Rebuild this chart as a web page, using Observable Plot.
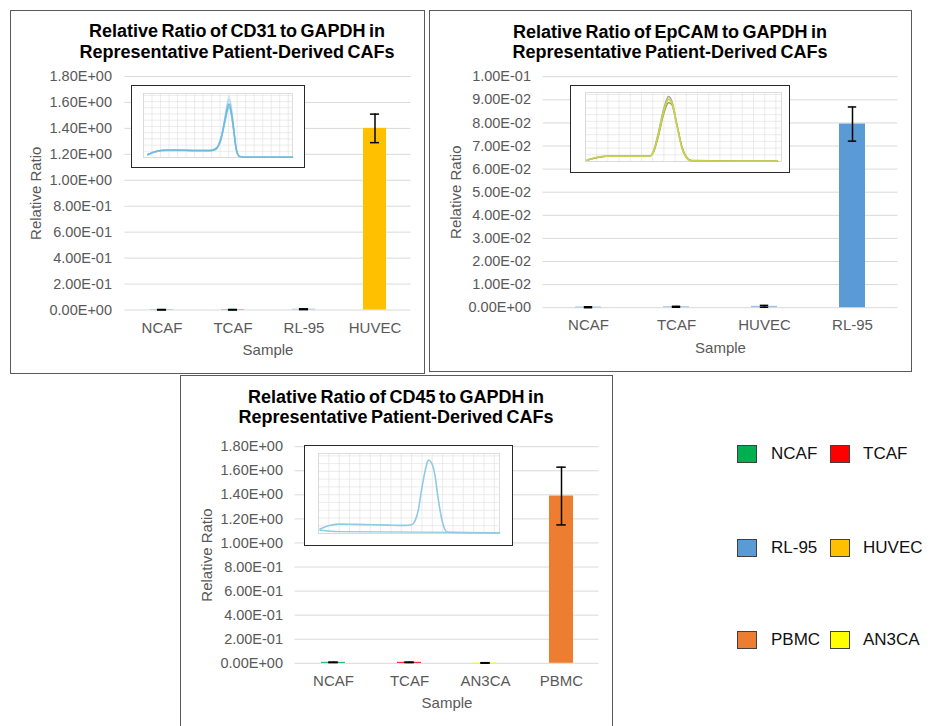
<!DOCTYPE html>
<html>
<head>
<meta charset="utf-8">
<script src="https://cdn.jsdelivr.net/npm/d3@7"></script>
<script src="https://cdn.jsdelivr.net/npm/@observablehq/plot@0.6"></script>
<style>
  html, body { margin: 0; padding: 0; background: #fff; }
  body { width: 931px; height: 726px; overflow: hidden; position: relative; font-family: "Liberation Sans", Arial, sans-serif; }
  .panel { position: absolute; box-sizing: border-box; border: 1.5px solid #5a5a5a; background: #fff; }
  .panel svg { position: absolute; left: 0; top: 0; }
  .title { position: absolute; text-align: center; font-weight: bold; font-size: 18px; line-height: 20.7px; color: #000; word-spacing: -1.5px; white-space: nowrap; }
  .inset { position: absolute; box-sizing: border-box; border: 1.5px solid #2a2a2a; background: #fff; }
  .inset svg { position: absolute; left: 0; top: 0; }
  .sw { position: absolute; width: 20px; height: 18px; box-sizing: border-box; border: 1px solid #404040; }
  .lt { position: absolute; font-size: 17px; line-height: 20px; color: #111; white-space: nowrap; }
</style>
</head>
<body>
<script>
// ---------------- Data ----------------
// Panel 1: CD31
const cd31Samples = ["NCAF", "TCAF", "RL-95", "HUVEC"];
const cd31Values  = [0.002, 0.002, 0.006, 1.40];
const cd31Errors  = [0.002, 0.002, 0.003, 0.11];
const cd31Colors  = ["#00B050", "#FF0000", "#9DC3E6", "#FFC000"];
const cd31Ticks   = [0, 0.2, 0.4, 0.6, 0.8, 1.0, 1.2, 1.4, 1.6, 1.8];

// Panel 2: EpCAM
const epcamSamples = ["NCAF", "TCAF", "HUVEC", "RL-95"];
const epcamValues  = [0.0002, 0.0004, 0.0006, 0.0795];
const epcamErrors  = [0.0002, 0.0002, 0.0004, 0.0074];
const epcamColors  = ["#5B9BD5", "#9DC3E6", "#9DC3E6", "#5B9BD5"];
const epcamTicks   = [0, 0.01, 0.02, 0.03, 0.04, 0.05, 0.06, 0.07, 0.08, 0.09, 0.10];

// Panel 3: CD45
const cd45Samples = ["NCAF", "TCAF", "AN3CA", "PBMC"];
const cd45Values  = [0.008, 0.008, 0.003, 1.39];
const cd45Errors  = [0.002, 0.002, 0.002, 0.24];
const cd45Colors  = ["#00B050", "#FF0000", "#FFFF00", "#ED7D31"];
const cd45Ticks   = [0, 0.2, 0.4, 0.6, 0.8, 1.0, 1.2, 1.4, 1.6, 1.8];

// Inset melt curves (temperature, -d(RFU)/dT normalised)
const meltGridX = [60, 62, 64, 66, 68, 70, 72, 74, 76, 78, 80, 82, 84, 86, 88, 90, 92, 94];
const meltGridY = [0, 0.1, 0.2, 0.3, 0.4, 0.5, 0.6, 0.7, 0.8, 0.9, 1.0];

const cd31Temps = [61, 63, 65.5, 68.5, 72.5, 75.5, 76.7, 77.5, 78.3, 79.1, 79.7, 80.1, 80.6, 81.2, 81.8, 82.6, 84, 95];
const cd31CurveA = [0.05, 0.10, 0.12, 0.12, 0.11, 0.11, 0.13, 0.18, 0.33, 0.59, 0.79, 0.86, 0.74, 0.44, 0.13, 0.015, 0.005, 0.005];
const cd31CurveB = [0.05, 0.10, 0.12, 0.12, 0.12, 0.12, 0.14, 0.19, 0.35, 0.63, 0.85, 0.93, 0.80, 0.47, 0.14, 0.02, 0.005, 0.005];
const cd31CurveC = [0.05, 0.10, 0.12, 0.12, 0.11, 0.11, 0.13, 0.18, 0.34, 0.65, 0.90, 0.99, 0.84, 0.48, 0.14, 0.02, 0.005, 0.005];
const cd31CurveD = [0.04, 0.09, 0.11, 0.11, 0.11, 0.11, 0.12, 0.17, 0.31, 0.56, 0.75, 0.81, 0.70, 0.42, 0.12, 0.015, 0.005, 0.005];

const epcamTemps = [60.3, 62.4, 64.1, 67.1, 70.1, 71.5, 72.1, 73.0, 73.9, 74.5, 74.8, 75.4, 76.3, 77.2, 78.1, 78.9, 94.3];
const epcamCurveA = [0.02, 0.07, 0.08, 0.08, 0.08, 0.08, 0.14, 0.40, 0.73, 0.89, 0.93, 0.88, 0.55, 0.21, 0.05, 0.01, 0.005];
const epcamCurveB = [0.02, 0.07, 0.08, 0.08, 0.08, 0.08, 0.15, 0.43, 0.77, 0.93, 0.97, 0.91, 0.57, 0.22, 0.05, 0.01, 0.005];
const epcamCurveC = [0.02, 0.06, 0.08, 0.08, 0.08, 0.08, 0.13, 0.37, 0.69, 0.84, 0.88, 0.85, 0.55, 0.23, 0.06, 0.015, 0.005];

const cd45Temps = [60.3, 61.9, 63.9, 67.1, 70.3, 73.5, 76.7, 78.0, 78.6, 79.3, 79.9, 80.6, 81.1, 81.3, 81.8, 82.5, 83.1, 83.8, 84.4, 85.0, 95];
const cd45Curve = [0.058, 0.10, 0.121, 0.117, 0.113, 0.108, 0.104, 0.113, 0.154, 0.30, 0.55, 0.80, 0.925, 0.946, 0.917, 0.758, 0.467, 0.196, 0.058, 0.017, 0.008];
const cd45BaseTemps = [60.3, 63.9, 95];
const cd45Base = [0.042, 0.025, 0.012];

// Legend
const legendNames  = ["NCAF", "TCAF", "RL-95", "HUVEC", "PBMC", "AN3CA"];
const legendColors = ["#00B050", "#FF0000", "#5B9BD5", "#FFC000", "#ED7D31", "#FFFF00"];

// ---------------- Helpers ----------------
function sci(v) {
  if (Math.abs(v) < 1e-12) return "0.00E+00";
  let e = Math.floor(Math.log10(Math.abs(v)) + 1e-9);
  let m = v / Math.pow(10, e);
  if (Math.abs(m) >= 9.995) { m /= 10; e += 1; }
  return m.toFixed(2) + "E" + (e < 0 ? "-" : "+") + String(Math.abs(e)).padStart(2, "0");
}

const FONT = '"Liberation Sans", Arial, sans-serif';

function barPanel(cfg) {
  const data = cfg.samples.map((s, i) => ({ s, v: cfg.values[i], e: cfg.errors[i], col: cfg.colors[i] }));
  const frameW = cfg.width - cfg.ml - cfg.mr;
  const bw = frameW / cfg.samples.length * (1 - cfg.pad);
  const capInset = Math.max(0, (bw - 9) / 2);
  return Plot.plot({
    width: cfg.width, height: cfg.height,
    marginLeft: cfg.ml, marginRight: cfg.mr, marginTop: cfg.mt, marginBottom: cfg.mb,
    style: { fontFamily: FONT, fontSize: "15px", color: "#595959", background: "transparent", overflow: "visible" },
    color: { type: "identity" },
    x: { domain: cfg.samples, paddingInner: cfg.pad, paddingOuter: cfg.pad / 2, label: null },
    y: { domain: [0, cfg.yMax], label: null },
    marks: [
      Plot.gridY(cfg.ticks, { stroke: "#d9d9d9", strokeOpacity: 1, strokeWidth: 1 }),
      Plot.barY(data, { x: "s", y: "v", fill: d => d.col }),
      Plot.ruleX(data, { x: "s", y1: d => Math.max(0, d.v - d.e), y2: d => d.v + d.e, stroke: "#000", strokeWidth: 1.5 }),
      Plot.tickY(data, { x: "s", y: d => d.v + d.e, stroke: "#000", strokeWidth: 1.5, insetLeft: capInset, insetRight: capInset }),
      Plot.tickY(data, { x: "s", y: d => Math.max(0, d.v - d.e), stroke: "#000", strokeWidth: 1.5, insetLeft: capInset, insetRight: capInset }),
      Plot.axisX({ tickSize: 0, tickPadding: 12, fontSize: 15, fill: "#595959" }),
      Plot.axisY({ ticks: cfg.ticks, tickFormat: sci, tickSize: 0, tickPadding: cfg.tp, fontSize: 14.5, fill: "#595959" }),
      Plot.text(["Sample"], { text: d => d, frameAnchor: "bottom", dy: 40, lineAnchor: "middle", fontSize: 15, fill: "#595959" }),
      Plot.text(["Relative Ratio"], { text: d => d, frameAnchor: "left", dx: cfg.ylabDx, rotate: -90, textAnchor: "middle", lineAnchor: "middle", fontSize: 15, fill: "#595959" })
    ]
  });
}

function meltInset(cfg) {
  const marks = [
    Plot.gridX(meltGridX, { stroke: "#e3e3e3", strokeOpacity: 1, strokeWidth: 0.7 }),
    Plot.gridY(meltGridY, { stroke: "#e3e3e3", strokeOpacity: 1, strokeWidth: 0.7 }),
    Plot.frame({ stroke: "#d6d6d6", strokeWidth: 0.8 })
  ];
  cfg.curves.forEach(c => {
    const rows = c.temps.map((t, i) => ({ t, v: c.vals[i] }));
    marks.push(Plot.line(rows, { x: "t", y: "v", stroke: c.color, strokeWidth: c.w, curve: "monotone-x" }));
  });
  return Plot.plot({
    width: cfg.width, height: cfg.height,
    marginLeft: cfg.ml, marginRight: cfg.mr, marginTop: cfg.mt, marginBottom: cfg.mb,
    style: { background: "transparent" },
    x: { domain: [60, 95], axis: null },
    y: { domain: [0, 1.03], axis: null },
    marks
  });
}

function makePanel(box, titleLines, titleBox, chart, insetBox, insetChart) {
  const div = document.createElement("div");
  div.className = "panel";
  Object.assign(div.style, { left: box.x + "px", top: box.y + "px", width: box.w + "px", height: box.h + "px" });
  div.appendChild(chart);
  const t = document.createElement("div");
  t.className = "title";
  t.style.left = (titleBox.cx - 200) + "px";
  t.style.width = "400px";
  t.style.top = titleBox.top + "px";
  t.innerHTML = titleLines.join("<br>");
  div.appendChild(t);
  const ins = document.createElement("div");
  ins.className = "inset";
  Object.assign(ins.style, { left: insetBox.x + "px", top: insetBox.y + "px", width: insetBox.w + "px", height: insetBox.h + "px" });
  ins.appendChild(insetChart);
  div.appendChild(ins);
  document.body.appendChild(div);
}

// ---------------- Panel 1: CD31 ----------------
makePanel(
  { x: 10, y: 10, w: 415, h: 364 },
  ["Relative Ratio of CD31 to GAPDH in", "Representative Patient-Derived CAFs"],
  { cx: 226, top: 10 },
  barPanel({ samples: cd31Samples, values: cd31Values, errors: cd31Errors, colors: cd31Colors, ticks: cd31Ticks, yMax: 1.8,
             width: 412, height: 361, ml: 113.5, mr: 12.5, mt: 65, mb: 62.5, pad: 0.68, tp: 13, ylabDx: -89 }),
  { x: 119.5, y: 73.5, w: 174, h: 83 },
  meltInset({ width: 171, height: 80, ml: 11, mr: 11, mt: 7, mb: 9, curves: [
    { temps: cd31Temps, vals: cd31CurveC, color: "#c4e4f4", w: 1.2 },
    { temps: cd31Temps, vals: cd31CurveB, color: "#a9d6ee", w: 1.2 },
    { temps: cd31Temps, vals: cd31CurveD, color: "#8cc8e6", w: 1.4 },
    { temps: cd31Temps, vals: cd31CurveA, color: "#72b9df", w: 1.6 }
  ]})
);

// ---------------- Panel 2: EpCAM ----------------
makePanel(
  { x: 429, y: 10, w: 483, h: 362 },
  ["Relative Ratio of EpCAM to GAPDH in", "Representative Patient-Derived CAFs"],
  { cx: 240, top: 10.5 },
  barPanel({ samples: epcamSamples, values: epcamValues, errors: epcamErrors, colors: epcamColors, ticks: epcamTicks, yMax: 0.1,
             width: 480, height: 359, ml: 112.5, mr: 12.5, mt: 65.2, mb: 62.8, pad: 0.7, tp: 12, ylabDx: -87 }),
  { x: 139.5, y: 73.5, w: 220, h: 88 },
  meltInset({ width: 217, height: 85, ml: 14, mr: 7, mt: 6, mb: 10, curves: [
    { temps: epcamTemps, vals: epcamCurveB, color: "#a8a898", w: 1.3 },
    { temps: epcamTemps, vals: epcamCurveC, color: "#8e9a48", w: 1.3 },
    { temps: epcamTemps, vals: epcamCurveA, color: "#c9d14e", w: 1.8 }
  ]})
);

// ---------------- Panel 3: CD45 ----------------
makePanel(
  { x: 180, y: 375, w: 433, h: 362 },
  ["Relative Ratio of CD45 to GAPDH in", "Representative Patient-Derived CAFs"],
  { cx: 215, top: 10.5 },
  barPanel({ samples: cd45Samples, values: cd45Values, errors: cd45Errors, colors: cd45Colors, ticks: cd45Ticks, yMax: 1.8,
             width: 430, height: 359, ml: 113.5, mr: 12.5, mt: 70.2, mb: 72.2, pad: 0.69, tp: 12, ylabDx: -88 }),
  { x: 122.5, y: 68.5, w: 209, h: 101 },
  meltInset({ width: 206, height: 98, ml: 13, mr: 12, mt: 7, mb: 11, curves: [
    { temps: cd45BaseTemps, vals: cd45Base, color: "#8fcbe3", w: 1.3 },
    { temps: cd45Temps, vals: cd45Curve, color: "#8fcbe3", w: 1.6 }
  ]})
);

// ---------------- Legend ----------------
const rowY = [454, 548, 640];
legendNames.forEach((name, i) => {
  const row = Math.floor(i / 2), col = i % 2;
  const sw = document.createElement("div");
  sw.className = "sw";
  sw.style.background = legendColors[i];
  sw.style.left = (col ? 830 : 737) + "px";
  sw.style.top = (rowY[row] - 9) + "px";
  document.body.appendChild(sw);
  const lt = document.createElement("div");
  lt.className = "lt";
  lt.textContent = name;
  lt.style.left = (col ? 863 : 771) + "px";
  lt.style.top = (rowY[row] - 10) + "px";
  document.body.appendChild(lt);
});
</script>
</body>
</html>
